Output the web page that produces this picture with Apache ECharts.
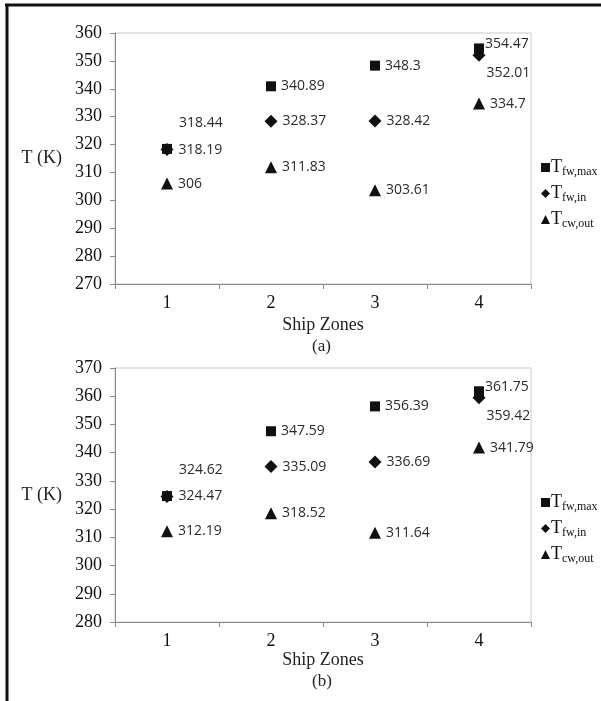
<!DOCTYPE html>
<html>
<head>
<meta charset="utf-8">
<script src="https://cdn.jsdelivr.net/npm/echarts@6/dist/echarts.min.js"></script>
<style>html,body{margin:0;padding:0;background:#fff;}#c{width:601px;height:701px;}</style>
</head>
<body>
<div id="c"></div>
<script>
// ---- data ----
var zones = ['1', '2', '3', '4'];
// chart (a)
var aFwMax = [318.44, 340.89, 348.3, 354.47];
var aFwIn  = [318.19, 328.37, 328.42, 352.01];
var aCwOut = [306, 311.83, 303.61, 334.7];
// chart (b)
var bFwMax = [324.62, 347.59, 356.39, 361.75];
var bFwIn  = [324.47, 335.09, 336.69, 359.42];
var bCwOut = [312.19, 318.52, 311.64, 341.79];
var aTicks = {min: 270, max: 360, interval: 10};
var bTicks = {min: 280, max: 370, interval: 10};
var seriesNames = ['Tfw,max', 'Tfw,in', 'Tcw,out'];
var legendSubs = {'Tfw,max': 'fw,max', 'Tfw,in': 'fw,in', 'Tcw,out': 'cw,out'};

// ---- styles ----
var serif = '"Liberation Serif", "Times New Roman", serif';
var sans = '"Open Sans", "Liberation Sans", Arial, sans-serif';
var markColor = '#111';
var labelStyle = {show: true, position: 'right', distance: 5, color: '#2b2b2b', fontFamily: sans, fontSize: 14,
  formatter: function (p) { return String(p.value); }};

// per-point label tweaks (styling only)
var maxOverrides = [{position: 'right', offset: [2, -26]}, null, null, {position: 'right', offset: [-4, -4]}];
var inOverrides = [null, null, null, {position: 'right', offset: [-4, 18]}];

function mkData(vals, ov) {
  return vals.map(function (v, i) {
    var d = {value: v};
    if (ov && ov[i]) d.label = ov[i];
    return d;
  });
}

function mkSeries(idx, vals, sym, size, name, ov) {
  return {
    type: 'scatter', name: name, xAxisIndex: idx, yAxisIndex: idx,
    symbol: sym, symbolSize: size,
    itemStyle: {color: markColor, opacity: 1},
    label: labelStyle,
    data: mkData(vals, ov),
    z: 3
  };
}

function mkX(idx, gap) {
  return {
    type: 'category', gridIndex: idx, data: zones, boundaryGap: true,
    name: 'Ship Zones', nameLocation: 'middle', nameGap: gap,
    nameTextStyle: {fontFamily: serif, fontSize: 18, color: '#222'},
    axisLine: {lineStyle: {color: '#8a8a8a', width: 1}},
    axisTick: {show: true, alignWithLabel: false, length: 5, lineStyle: {color: '#8a8a8a'}},
    axisLabel: {fontFamily: serif, fontSize: 18, color: '#111', margin: 10},
    splitLine: {show: false}
  };
}
function mkY(idx, t) {
  return {
    type: 'value', gridIndex: idx, min: t.min, max: t.max, interval: t.interval,
    name: 'T (K)', nameLocation: 'middle', nameRotate: 0, nameGap: 53,
    nameTextStyle: {fontFamily: serif, fontSize: 18, color: '#222'},
    axisLine: {show: true, lineStyle: {color: '#8a8a8a', width: 1}},
    axisTick: {show: true, length: 5, lineStyle: {color: '#8a8a8a'}},
    axisLabel: {fontFamily: serif, fontSize: 18, color: '#111', margin: 13},
    splitLine: {show: false}
  };
}

function mkLegend(top) {
  return {
    orient: 'vertical', left: 536, top: top, itemGap: 5,
    itemWidth: 9, itemHeight: 9,
    data: [
      {name: seriesNames[0], icon: 'rect'},
      {name: seriesNames[1], icon: 'diamond'},
      {name: seriesNames[2], icon: 'triangle'}
    ],
    selectedMode: false,
    formatter: function (n) { return '{a|T}{b|' + legendSubs[n] + '}'; },
    textStyle: {
      padding: [0, 0, 0, -4],
      rich: {
        a: {fontFamily: serif, fontSize: 18, color: '#111', lineHeight: 22},
        b: {fontFamily: serif, fontSize: 12, color: '#111', lineHeight: 22, padding: [9, 0, 0, 0]}
      }
    }
  };
}

var chart = echarts.init(document.getElementById('c'), null, {renderer: 'canvas'});
chart.setOption({
  animation: false,
  backgroundColor: '#fff',
  grid: [
    {left: 115, top: 33, width: 416, height: 251, show: true, borderColor: '#c4cad2', borderWidth: 1, backgroundColor: 'transparent'},
    {left: 115, top: 368, width: 416, height: 254, show: true, borderColor: '#c4cad2', borderWidth: 1, backgroundColor: 'transparent'}
  ],
  xAxis: [mkX(0, 32), mkX(1, 29)],
  yAxis: [mkY(0, aTicks), mkY(1, bTicks)],
  legend: [mkLegend(152), mkLegend(487)],
  graphic: [
    {type: 'line', shape: {x1: 5, y1: 5, x2: 601, y2: 5}, style: {stroke: '#111', lineWidth: 3}},
    {type: 'line', shape: {x1: 7, y1: 4, x2: 7, y2: 701}, style: {stroke: '#111', lineWidth: 3}},
    {type: 'text', left: 312, top: 338, style: {text: '(a)', font: '17px ' + serif, fill: '#222'}},
    {type: 'text', left: 312, top: 673, style: {text: '(b)', font: '17px ' + serif, fill: '#222'}}
  ],
  series: [
    mkSeries(0, aFwMax, 'rect', 10, seriesNames[0], maxOverrides),
    mkSeries(0, aFwIn, 'diamond', 13, seriesNames[1], inOverrides),
    mkSeries(0, aCwOut, 'triangle', 12, seriesNames[2], null),
    mkSeries(1, bFwMax, 'rect', 10, seriesNames[0], maxOverrides),
    mkSeries(1, bFwIn, 'diamond', 13, seriesNames[1], inOverrides),
    mkSeries(1, bCwOut, 'triangle', 12, seriesNames[2], null)
  ]
});
</script>
</body>
</html>
